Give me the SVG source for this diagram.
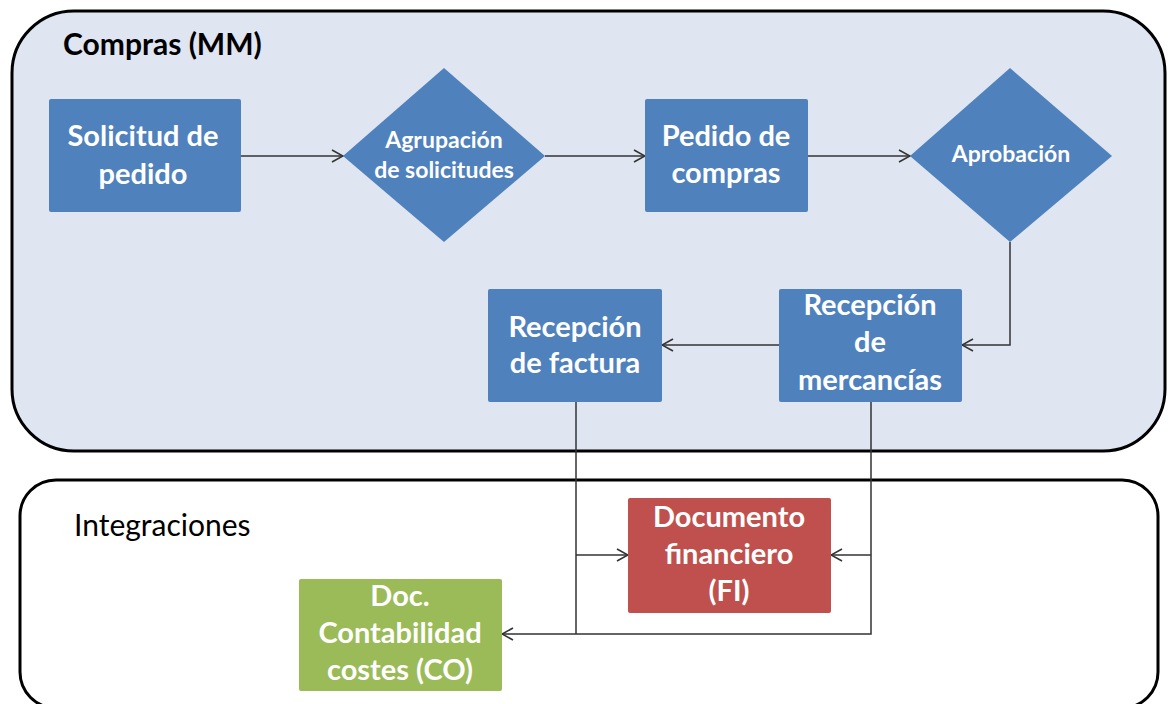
<svg xmlns="http://www.w3.org/2000/svg" width="1168" height="704" viewBox="0 0 1168 704">
  <style>
    .lane { stroke: #000; stroke-width: 3; }
    .lane-title { font-family: Lato, "Liberation Sans", sans-serif; font-size: 30px; fill: #000; }
    .blue { fill: #4f81bd; }
    .red { fill: #c0504d; }
    .green { fill: #9bbb59; }
    .t { font-family: Lato, "Liberation Sans", sans-serif; font-weight: bold; font-size: 29px; fill: #fff; text-anchor: middle; }
    .td { font-family: Lato, "Liberation Sans", sans-serif; font-weight: bold; font-size: 23px; fill: #fff; text-anchor: middle; }
    .conn { fill: none; stroke: #333; stroke-width: 1.5; }
  </style>
  <defs>
    <marker id="arr" markerUnits="userSpaceOnUse" markerWidth="14" markerHeight="14" viewBox="0 0 14 14" refX="13" refY="7" orient="auto">
      <path d="M2,1 L13,7 L2,13" fill="none" stroke="#333" stroke-width="1.6"/>
    </marker>
  </defs>

  <g id="lane-compras">
    <rect class="lane" x="12" y="11" width="1153" height="440" rx="62" ry="62" fill="#dfe6f1"/>
    <text class="lane-title" x="63" y="55" font-weight="bold" font-size="29.5">Compras (MM)</text>
  </g>
  <g id="lane-integraciones">
    <rect class="lane" x="20" y="480" width="1138" height="228" rx="36" ry="36" fill="#fff"/>
    <text class="lane-title" x="74" y="536">Integraciones</text>
  </g>

  <g id="connectors">
    <path class="conn" d="M241,156 H343" marker-end="url(#arr)"/>
    <path class="conn" d="M545,156 H645" marker-end="url(#arr)"/>
    <path class="conn" d="M808,156 H910" marker-end="url(#arr)"/>
    <path class="conn" d="M1010,242 V345 H962" marker-end="url(#arr)"/>
    <path class="conn" d="M779,345 H662" marker-end="url(#arr)"/>
    <path class="conn" d="M576,402 V634"/>
    <path class="conn" d="M576,555 H628" marker-end="url(#arr)"/>
    <path class="conn" d="M871,402 V634 H502" marker-end="url(#arr)"/>
    <path class="conn" d="M871,555 H831" marker-end="url(#arr)"/>
  </g>

  <g id="solicitud">
    <rect class="blue" x="49" y="99" width="192" height="113" rx="2"/>
    <text class="t" x="143" y="146">Solicitud de</text>
    <text class="t" x="143" y="184">pedido</text>
  </g>
  <g id="agrupacion">
    <polygon class="blue" points="444,68 545,156 444,242 343,156"/>
    <text class="td" x="444" y="148">Agrupación</text>
    <text class="td" x="444" y="178">de solicitudes</text>
  </g>
  <g id="pedido">
    <rect class="blue" x="645" y="99" width="163" height="113" rx="2"/>
    <text class="t" x="726" y="146">Pedido de</text>
    <text class="t" x="726" y="183">compras</text>
  </g>
  <g id="aprobacion">
    <polygon class="blue" points="1010,68 1112,156 1010,242 910,156"/>
    <text class="td" x="1011" y="162">Aprobación</text>
  </g>
  <g id="recepcion-mercancias">
    <rect class="blue" x="779" y="289" width="183" height="113" rx="2"/>
    <text class="t" x="870" y="315">Recepción</text>
    <text class="t" x="870" y="352">de</text>
    <text class="t" x="870" y="390">mercancías</text>
  </g>
  <g id="recepcion-factura">
    <rect class="blue" x="488" y="289" width="174" height="113" rx="2"/>
    <text class="t" x="575" y="337">Recepción</text>
    <text class="t" x="575" y="373">de factura</text>
  </g>
  <g id="documento-financiero">
    <rect class="red" x="628" y="498" width="203" height="115" rx="2"/>
    <text class="t" x="729" y="527">Documento</text>
    <text class="t" x="729" y="564">financiero</text>
    <text class="t" x="729" y="601">(FI)</text>
  </g>
  <g id="doc-contabilidad">
    <rect class="green" x="299" y="579" width="203" height="112" rx="2"/>
    <text class="t" x="400" y="606">Doc.</text>
    <text class="t" x="400" y="643">Contabilidad</text>
    <text class="t" x="400" y="680">costes (CO)</text>
  </g>
</svg>
